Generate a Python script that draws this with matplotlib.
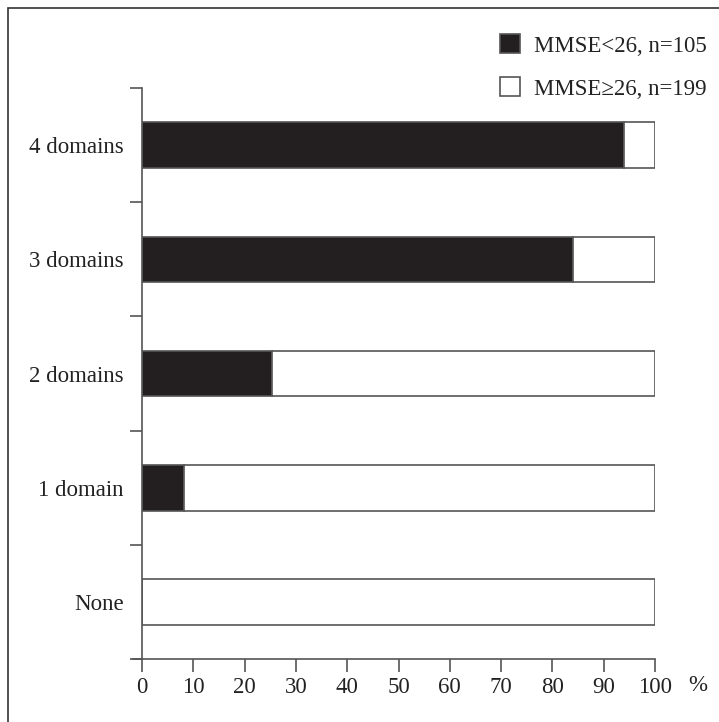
import matplotlib
matplotlib.use("Agg")
import matplotlib.pyplot as plt
from matplotlib.patches import Rectangle, Patch

plt.rcParams['font.family'] = ['Liberation Serif', 'DejaVu Serif']

categories = ["None", "1 domain", "2 domains", "3 domains", "4 domains"]
impaired_pct = [0.0, 8.2, 25.3, 84.0, 94.0]   # MMSE<26
x_ticks = [0, 10, 20, 30, 40, 50, 60, 70, 80, 90, 100]
legend_labels = ["MMSE<26, n=105", "MMSE\u226526, n=199"]

dark = "#231f20"
edge = "#555555"
txt = "#222222"
fs = 16.5

fig = plt.figure(figsize=(7.19, 7.22), dpi=100)
ax = fig.add_axes([0.1975, 0.0873, 0.7135, 0.7907])

# outer frame of the figure panel
fig.patches.append(Rectangle((8 / 719, -0.05), 1.2, 1 - 8 / 722 + 0.05,
                             transform=fig.transFigure, fill=False,
                             edgecolor="#333333", linewidth=1.2))

ypos = list(range(len(categories)))
remaining = [100 - v for v in impaired_pct]
h = 0.4
ax.barh(ypos, impaired_pct, height=h, color=dark, edgecolor=edge, linewidth=1.2)
ax.barh(ypos, remaining, left=impaired_pct, height=h, color="white",
        edgecolor=edge, linewidth=1.2)

ax.set_xlim(0, 100)
ax.set_ylim(-0.5, len(categories) - 0.5)
ax.set_xticks(x_ticks)
ax.set_xticklabels([str(t) for t in x_ticks], fontsize=fs, color=txt)
ax.set_yticks([i - 0.5 for i in range(len(categories) + 1)])
ax.set_yticklabels([])
ax.set_yticks(ypos, minor=True)
ax.set_yticklabels(categories, minor=True, fontsize=fs, color=txt)
ax.tick_params(axis="y", which="minor", length=0, pad=13)
ax.tick_params(axis="y", which="major", length=9, width=1.2, color=edge)
ax.tick_params(axis="x", length=9, width=1.2, color=edge, pad=4)

for s in ["top", "right"]:
    ax.spines[s].set_visible(False)
for s in ["left", "bottom"]:
    ax.spines[s].set_color(edge)
    ax.spines[s].set_linewidth(1.2)
ax.spines["bottom"].set_bounds(-1.8, 100)
ax.spines["bottom"].set_clip_on(False)

fig.text(688 / 719, 0.0873 - 0.022, "%", ha="left", va="top", fontsize=fs,
         color=txt)

handles = [Patch(facecolor=dark, edgecolor=edge, linewidth=1.2),
           Patch(facecolor="white", edgecolor=edge, linewidth=1.2)]
leg = fig.legend(handles, legend_labels, loc="upper right",
                 bbox_to_anchor=(1.011, 0.981), frameon=False, fontsize=fs,
                 handlelength=0.85, handleheight=0.9, handletextpad=0.6,
                 labelspacing=0.9, labelcolor=txt)

fig.savefig("out.png", dpi=100)
